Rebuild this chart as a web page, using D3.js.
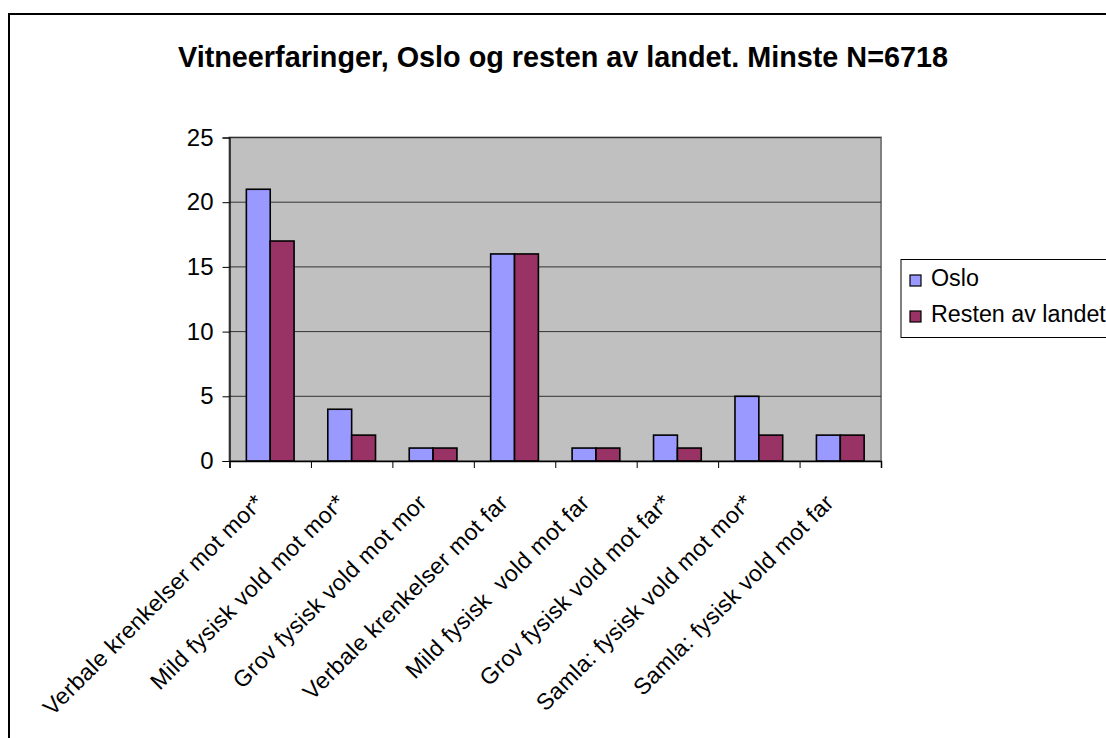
<!DOCTYPE html>
<html>
<head>
<meta charset="utf-8">
<script src="https://cdn.jsdelivr.net/npm/d3@7"></script>
<style>
  html, body { margin: 0; padding: 0; background: #fff; }
  svg { display: block; font-family: "Liberation Sans", Arial, sans-serif; }
</style>
</head>
<body>
<svg id="chart" width="1106" height="738"></svg>
<script>
const titleText = "Vitneerfaringer, Oslo og resten av landet. Minste N=6718";
const categories = [
  "Verbale krenkelser mot mor*",
  "Mild fysisk vold mot mor*",
  "Grov fysisk vold mot mor",
  "Verbale krenkelser mot far",
  "Mild fysisk  vold mot far",
  "Grov fysisk vold mot far*",
  "Samla: fysisk vold mot mor*",
  "Samla: fysisk vold mot far"
];
const seriesNames = ["Oslo", "Resten av landet"];
const osloValues = [21, 4, 1, 16, 1, 2, 5, 2];
const restenValues = [17, 2, 1, 16, 1, 1, 2, 2];
const yTicks = [0, 5, 10, 15, 20, 25];
const colors = ["#9999FF", "#993366"];

const svg = d3.select("#chart");
const plot = { left: 229.5, right: 881, top: 137.5, bottom: 461 };

// outer border
svg.append("rect")
  .attr("x", 9).attr("y", 14)
  .attr("width", 1120).attr("height", 760)
  .attr("fill", "#fff").attr("stroke", "#000").attr("stroke-width", 2);

// title
svg.append("text")
  .attr("x", 563).attr("y", 67)
  .attr("text-anchor", "middle")
  .attr("font-weight", "bold")
  .attr("font-size", 28.8)
  .text(titleText);

const x0 = d3.scaleBand().domain(categories).range([plot.left, plot.right]).padding(0);
const y = d3.scaleLinear().domain([0, 25]).range([plot.bottom, plot.top]);
const barW = x0.step() * 0.293;
const x1 = d3.scaleBand().domain(seriesNames).range([0, barW * 2]);

// plot background
svg.append("rect")
  .attr("x", plot.left).attr("y", plot.top)
  .attr("width", plot.right - plot.left).attr("height", plot.bottom - plot.top)
  .attr("fill", "#C0C0C0").attr("stroke", "#808080").attr("stroke-width", 2);

// gridlines
svg.append("g").selectAll("line").data(yTicks.filter(d => d > 0)).join("line")
  .attr("x1", plot.left).attr("x2", plot.right)
  .attr("y1", d => y(d)).attr("y2", d => y(d))
  .attr("stroke", "#333").attr("stroke-width", 1);

// bars
const data = categories.map((c, i) => ({ c, vals: [osloValues[i], restenValues[i]] }));
const groups = svg.append("g").selectAll("g").data(data).join("g")
  .attr("transform", d => `translate(${x0(d.c) + x0.step() / 2 - barW},0)`);
groups.selectAll("rect").data(d => d.vals.map((v, j) => ({ v, s: seriesNames[j], j }))).join("rect")
  .attr("x", d => x1(d.s)).attr("width", x1.bandwidth())
  .attr("y", d => y(d.v)).attr("height", d => y(0) - y(d.v))
  .attr("fill", d => colors[d.j])
  .attr("stroke", "#000").attr("stroke-width", 1.6);

// y axis
const yAxis = d3.axisLeft(y).tickValues(yTicks).tickSize(7).tickPadding(9).tickFormat(d3.format("d"));
const yg = svg.append("g").attr("transform", `translate(${plot.left},0)`).call(yAxis);
yg.select(".domain").attr("stroke", "#000").attr("stroke-width", 1.2);
yg.selectAll(".tick line").attr("stroke", "#000");
yg.selectAll(".tick text").attr("font-size", 24).attr("fill", "#000")
  .attr("font-family", "Liberation Sans, Arial, sans-serif");

// x axis
const boundaries = d3.range(categories.length + 1);
const xb = d3.scaleLinear().domain([0, categories.length]).range([plot.left, plot.right]);
const xAxis = d3.axisBottom(xb).tickValues(boundaries).tickSize(7).tickFormat("");
const xg = svg.append("g").attr("transform", `translate(0,${plot.bottom})`).call(xAxis);
xg.select(".domain").attr("stroke", "#000").attr("stroke-width", 1.5);
xg.selectAll(".tick line").attr("stroke", "#000");

// x labels
svg.append("g").selectAll("text").data(categories).join("text")
  .attr("transform", d => `translate(${x0(d) + x0.step() / 2 - 5},504) rotate(-45)`)
  .attr("text-anchor", "end")
  .attr("font-size", 23)
  .attr("letter-spacing", 0.4)
  .style("white-space", "pre")
  .text(d => d);

// legend
const lg = svg.append("g");
lg.append("rect").attr("x", 901).attr("y", 259.5).attr("width", 230).attr("height", 78)
  .attr("fill", "#fff").attr("stroke", "#000").attr("stroke-width", 1);
const li = lg.selectAll("g").data(seriesNames).join("g")
  .attr("transform", (d, i) => `translate(910,${286 + i * 36})`);
li.append("rect").attr("x", 0).attr("y", -11).attr("width", 11).attr("height", 11)
  .attr("fill", (d, i) => colors[i]).attr("stroke", "#000").attr("stroke-width", 1.2);
li.append("text").attr("x", 21).attr("y", 0).attr("font-size", 23.3).text(d => d);
</script>
</body>
</html>
